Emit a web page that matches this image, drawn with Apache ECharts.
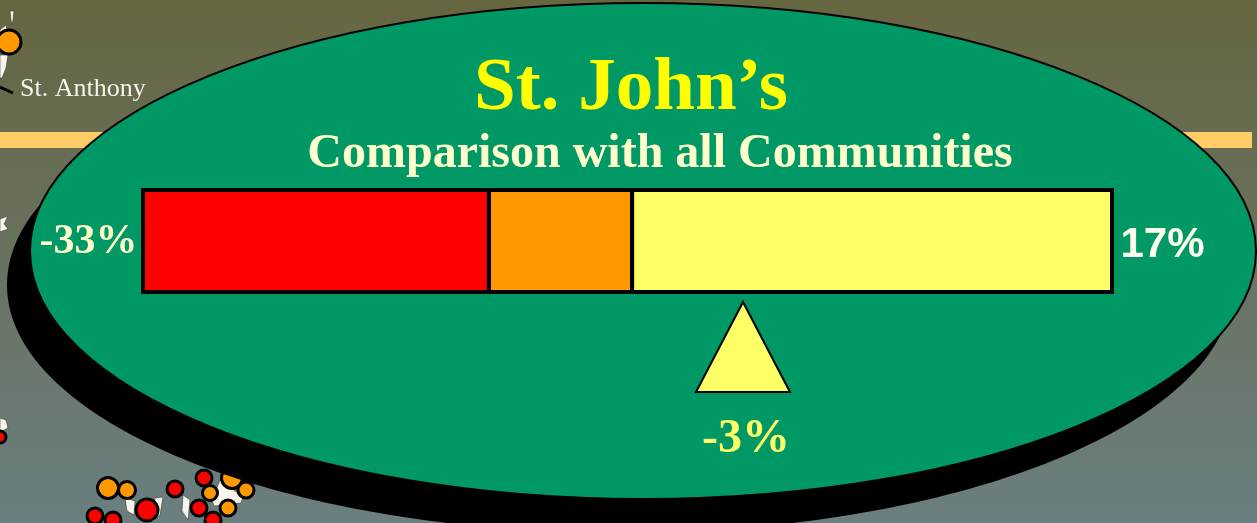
<!DOCTYPE html>
<html>
<head>
<meta charset="utf-8">
<title>St. John's</title>
<style>
  html, body { margin: 0; padding: 0; }
  #chart { width: 1257px; height: 523px; }
</style>
<script src="https://cdn.jsdelivr.net/npm/echarts@6/dist/echarts.min.js"></script>
</head>
<body>
<div id="chart"></div>
<script>
// scale ends and band edges
const bandEdges = [-33, -15.15, -7.76, 17]
const bandColors = ['#ff0000', '#ff9900', '#ffff66']
const scaleEnds = [-33, 17]
const endLabels = ['-33%', '17%']
// the triangle sits here on the bar scale, the printed label says -3%
const markerValue = -2.04
const markerLabel = '-3%'

// background map, in picture pixels
const orangeTowns = [[9, 42, 24], [108, 488, 21], [127, 490, 17], [210, 493, 15], [232, 478, 21], [246, 490, 16], [228, 508, 16], [82, 528, 18]]
const redTowns = [[0, 437, 12], [147, 510, 22], [95, 516, 16], [113, 520, 16], [175, 489, 16], [204, 478, 16], [199, 508, 16], [213, 520, 16]]
const land = [
  [[0, 30], [6, 25], [8, 35], [0, 38]],
  [[0, 55], [8, 55], [6, 68], [2, 78], [0, 78]],
  [[10, 11], [14, 11], [13, 20], [12, 25], [11, 20]],
  [[0, 219], [8, 216], [4, 224], [8, 229], [0, 232]],
  [[0, 418], [6, 420], [8, 428], [0, 432]],
  [[125, 498], [135, 501], [134, 515], [127, 511]],
  [[155, 498], [163, 497], [160, 515], [152, 523]],
  [[183, 495], [190, 500], [188, 520], [182, 511]],
  [[220, 480], [243, 497], [241, 503], [214, 506], [212, 500]]
]
const leaderLine = [[0, 87], [13, 93]]

const chart = echarts.init(document.getElementById('chart'))

function renderBand(params, api) {
  const start = api.coord([api.value(0), 0])
  const end = api.coord([api.value(1), 0])
  const h = api.size([0, 1])[1]
  return {
    type: 'rect',
    shape: { x: start[0], y: start[1] - h / 2, width: end[0] - start[0], height: h },
    style: { fill: bandColors[params.dataIndex], stroke: '#000', lineWidth: 4 }
  }
}

function renderLand(params, api) {
  const points = land[params.dataIndex].map(p => api.coord(p))
  return {
    type: 'polygon',
    shape: { points: points },
    style: { fill: '#f8f6ec', stroke: '#222', lineWidth: 0.5 }
  }
}

function towns(rows, color) {
  return {
    type: 'scatter',
    xAxisIndex: 0,
    yAxisIndex: 0,
    z: 2,
    silent: true,
    data: rows,
    symbolSize: d => d[2],
    itemStyle: { color: color, borderColor: '#000', borderWidth: 3, opacity: 1 }
  }
}

const bandRows = bandColors.map((c, i) => [bandEdges[i], bandEdges[i + 1]])

chart.setOption({
  animation: false,
  backgroundColor: {
    type: 'linear', x: 0, y: 0, x2: 0, y2: 1,
    colorStops: [{ offset: 0, color: '#666640' }, { offset: 1, color: '#6b7f80' }]
  },
  title: [
    {
      text: 'St. John\u2019s', left: 626, top: 47, textAlign: 'center',
      textStyle: { color: '#ffff00', fontFamily: 'Liberation Serif', fontWeight: 'bold', fontSize: 75 }
    },
    {
      text: 'Comparison with all Communities', left: 655, top: 126, textAlign: 'center',
      textStyle: { color: '#ffffcc', fontFamily: 'Liberation Serif', fontWeight: 'bold', fontSize: 48 }
    }
  ],
  grid: [
    { left: 0, top: 0, width: 1257, height: 523 },
    { left: 143, top: 190, width: 969, height: 102 },
    { left: 143, top: 302, width: 969, height: 90 }
  ],
  xAxis: [
    { gridIndex: 0, type: 'value', min: 0, max: 1257, show: false },
    { gridIndex: 1, type: 'value', min: -33, max: 17, show: false },
    { gridIndex: 2, type: 'value', min: -33, max: 17, show: false }
  ],
  yAxis: [
    { gridIndex: 0, type: 'value', min: 0, max: 523, inverse: true, show: false },
    { gridIndex: 1, type: 'category', data: ['band'], show: false },
    { gridIndex: 2, type: 'category', data: ['marker'], show: false }
  ],
  graphic: [
    { type: 'rect', z: 1, silent: true, shape: { x: 0, y: 132, width: 1252, height: 16 }, style: { fill: '#ffcc66' } },
    { type: 'ellipse', z: 3, silent: true, shape: { cx: 620, cy: 285, rx: 613, ry: 248 }, style: { fill: '#000' } },
    { type: 'ellipse', z: 4, silent: true, shape: { cx: 643, cy: 251, rx: 613, ry: 248 }, style: { fill: '#009966', stroke: '#000', lineWidth: 2 } },
    {
      type: 'text', z: 2, silent: true, x: 20, y: 76,
      style: { text: 'St. Anthony', fill: '#f4f4ec', font: '26px "Liberation Serif"' }
    }
  ],
  series: [
    {
      type: 'custom', xAxisIndex: 0, yAxisIndex: 0, z: 1, silent: true,
      coordinateSystem: 'cartesian2d',
      data: land.map(shape => shape[0]),
      renderItem: renderLand
    },
    {
      type: 'line', xAxisIndex: 0, yAxisIndex: 0, z: 2, silent: true,
      data: leaderLine, symbol: 'none',
      lineStyle: { color: '#000', width: 3 }
    },
    towns(orangeTowns, '#ff9900'),
    towns(redTowns, '#ff0000'),
    {
      type: 'custom', xAxisIndex: 1, yAxisIndex: 1, z: 6, silent: true,
      coordinateSystem: 'cartesian2d',
      encode: { x: [0, 1] },
      data: bandRows,
      renderItem: renderBand
    },
    {
      type: 'scatter', xAxisIndex: 1, yAxisIndex: 1, z: 7, silent: true,
      symbolSize: 1, itemStyle: { color: 'transparent', opacity: 1 }, clip: false,
      data: [
        {
          value: [scaleEnds[0], 'band'],
          label: {
            show: true, position: 'left', distance: 5, offset: [0, 1], formatter: endLabels[0], color: '#ffffcc',
            fontFamily: 'Liberation Serif', fontWeight: 'bold', fontSize: 42
          }
        },
        {
          value: [scaleEnds[1], 'band'],
          label: {
            show: true, position: 'right', distance: 8, offset: [0, 4], formatter: endLabels[1], color: '#ffffee',
            fontFamily: 'Liberation Sans', fontWeight: 'bold', fontSize: 42
          }
        }
      ]
    },
    {
      type: 'scatter', xAxisIndex: 2, yAxisIndex: 2, z: 7, silent: true,
      symbol: 'triangle', symbolSize: [94, 90], clip: false,
      data: [[markerValue, 'marker']],
      itemStyle: { color: '#ffff66', borderColor: '#000', borderWidth: 2, opacity: 1 },
      label: {
        show: true, position: 'bottom', distance: 23, offset: [3, 0], formatter: markerLabel, color: '#ffff66',
        fontFamily: 'Liberation Serif', fontWeight: 'bold', fontSize: 48
      }
    }
  ]
})
</script>
</body>
</html>
